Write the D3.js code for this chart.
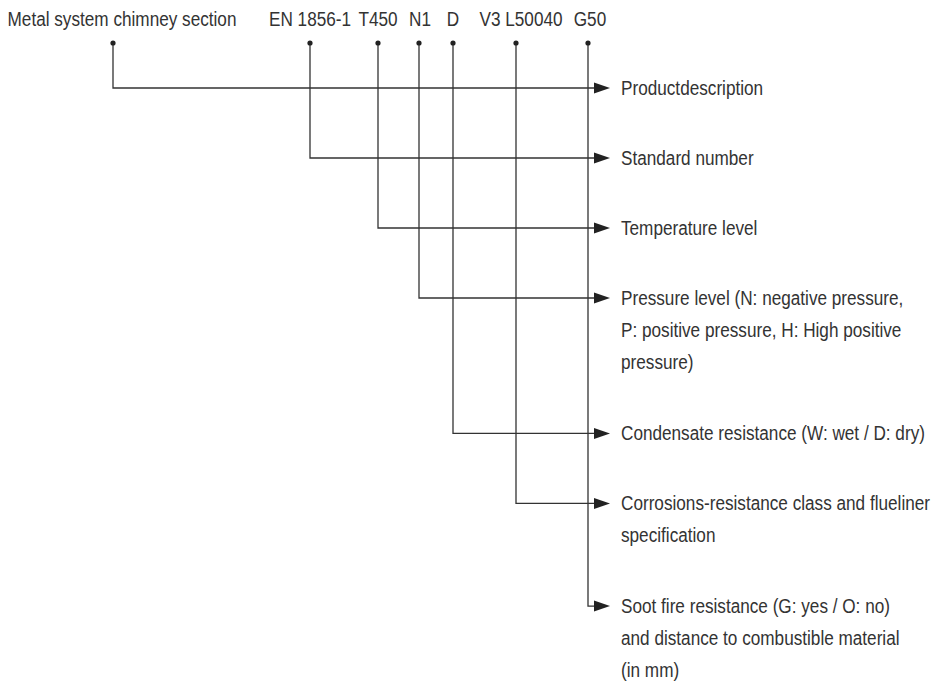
<!DOCTYPE html>
<html>
<head>
<meta charset="utf-8">
<script src="https://cdn.jsdelivr.net/npm/d3@7/dist/d3.min.js"></script>
<style>
	body { margin: 0; background: #fff; }
	text { font-family: "Liberation Sans", Arial, sans-serif; fill: #333; }
</style>
</head>
<body>
<div id="diagram"></div>
<script>
// DATA
const codes = ["Metal system chimney section", "EN 1856-1", "T450", "N1", "D", "V3 L50040", "G50"];
// centre of each code label and the x of its dot
const codeCenters = [122, 310, 378, 420, 453, 521, 590];
const dotX = [113, 310, 378, 419, 453, 516, 588];
const descriptions = [
	["Productdescription"],
	["Standard number"],
	["Temperature level"],
	["Pressure level (N: negative pressure,", "P: positive pressure, H: High positive", "pressure)"],
	["Condensate resistance (W: wet / D: dry)"],
	["Corrosions-resistance class and flueliner", "specification"],
	["Soot fire resistance (G: yes / O: no)", "and distance to combustible material", "(in mm)"]
];

const width = 934, height = 690;
const headerY = 26, dotY = 43;
const firstRow = 88, rowGap = 70, lineHeight = 32, stackLine = 32.7;
const arrowBase = 594, arrowTip = 610, textX = 621;
const fontSize = 21;

// row y for every description, stacked by line count
let rowY = [];
let acc = firstRow;
descriptions.forEach((lines, i) => {
	rowY.push(acc);
	acc += rowGap + (lines.length - 1) * stackLine;
});

const svg = d3.select("#diagram")
	.append("svg")
	.attr("width", width)
	.attr("height", height);

// the picture uses a condensed face; squeeze a normal one to the same width
const probe = svg.append("text")
	.style("font-size", fontSize + "px")
	.text(codes[0]);
const squeeze = 229 / probe.node().getComputedTextLength();
probe.remove();

const x = d3.scaleLinear().domain([0, width]).range([0, width]);

// header codes
svg.selectAll("text.code")
	.data(codes)
	.enter()
	.append("text")
	.attr("class", "code")
	.attr("transform", (d, i) => `translate(${x(codeCenters[i])},${headerY}) scale(${squeeze},1)`)
	.attr("text-anchor", "middle")
	.style("font-size", fontSize + "px")
	.text(d => d);

// connectors
svg.selectAll("path.link")
	.data(codes)
	.enter()
	.append("path")
	.attr("class", "link")
	.attr("d", (d, i) => `M${x(dotX[i])},${dotY} V${rowY[i]} H${arrowBase + 2}`)
	.attr("fill", "none")
	.attr("stroke", "#333")
	.attr("stroke-width", 1.3);

svg.selectAll("circle.dot")
	.data(codes)
	.enter()
	.append("circle")
	.attr("class", "dot")
	.attr("cx", (d, i) => x(dotX[i]))
	.attr("cy", dotY)
	.attr("r", 2.6)
	.attr("fill", "#222");

svg.selectAll("path.arrow")
	.data(rowY)
	.enter()
	.append("path")
	.attr("class", "arrow")
	.attr("d", d => `M${arrowBase},${d - 5.5} L${arrowTip},${d} L${arrowBase},${d + 5.5} Z`)
	.attr("fill", "#222");

// descriptions
const desc = svg.selectAll("text.desc")
	.data(descriptions)
	.enter()
	.append("text")
	.attr("class", "desc")
	.attr("transform", (d, i) => `translate(${textX},${rowY[i] + 7}) scale(${squeeze},1)`)
	.style("font-size", fontSize + "px");

desc.selectAll("tspan")
	.data(d => d)
	.enter()
	.append("tspan")
	.attr("x", 0)
	.attr("dy", (d, j) => j === 0 ? 0 : lineHeight)
	.text(d => d);
</script>
</body>
</html>
